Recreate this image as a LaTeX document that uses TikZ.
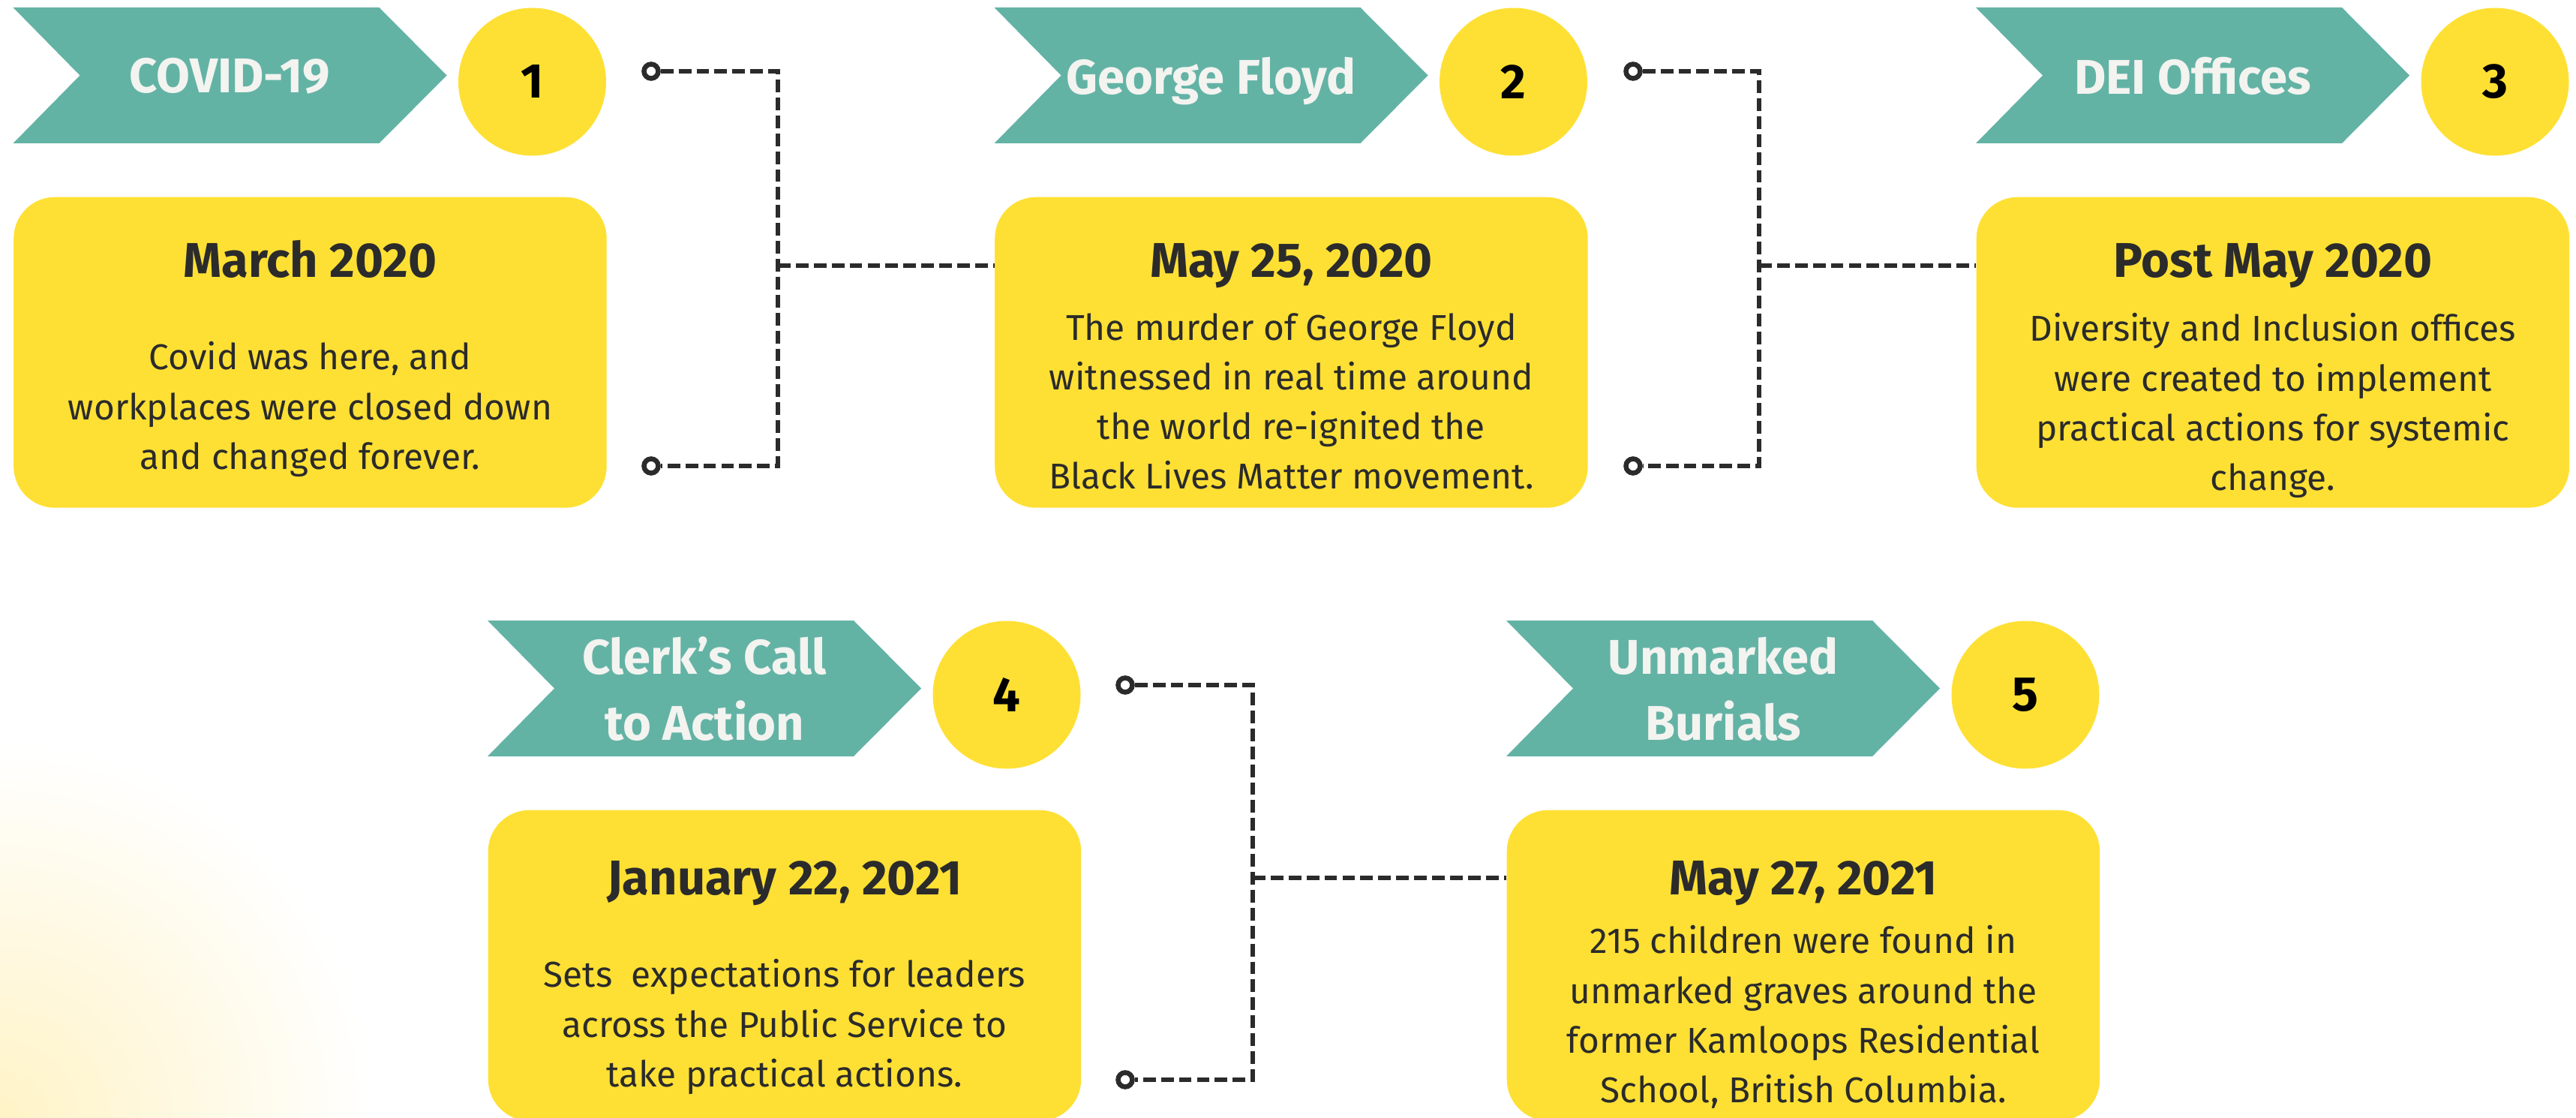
\documentclass[tikz,border=0pt]{standalone}
\usepackage{fontspec}
\setmainfont{Fira Sans}

\begin{document}
\begin{tikzpicture}[
  tag/.style={text=tag_text,font=\bfseries\fontsize{18.5}{25}\selectfont,align=center,text depth=0pt,inner sep=0pt},
  badge/.style={circle,fill=card_fill,minimum size=1.97cm,inner sep=0pt,font=\bfseries\fontsize{18.5}{22}\selectfont},
  card/.style={fill=card_fill,rounded corners=0.55cm,minimum width=7.905cm,minimum height=4.14cm,anchor=north west,inner sep=0pt},
  card_title/.style={text=ink,font=\bfseries\fontsize{18.5}{22}\selectfont,anchor=base,inner sep=0pt},
  card_text/.style={text=ink,font=\fontsize{13.6}{18.8}\selectfont,align=center,anchor=north,inner sep=0pt},
  pin/.style={circle,draw=ink,fill=white,line width=0.065cm,minimum size=0.19cm,inner sep=0pt},
  link/.style={draw=ink,line width=0.065cm,dash pattern=on 4.8pt off 2pt}
]
\definecolor{tag_fill}{HTML}{63B3A5}
\definecolor{tag_text}{HTML}{F3F3F0}
\definecolor{card_fill}{HTML}{FEE034}
\definecolor{ink}{HTML}{2B2B2B}
\definecolor{glow_fill}{HTML}{FFF3C6}

\useasboundingbox (0,0) rectangle (34.34,-14.90);
\begin{scope}
\clip (0,0) rectangle (34.34,-14.90);
\shade[inner color=glow_fill,outer color=white] (0,-14.90) circle (5);
\end{scope}

% banners, numbers and cards
\foreach \i/\x/\y/\label in {1/0.175/-0.10/COVID-19,2/13.255/-0.10/George Floyd,3/26.34/-0.10/DEI Offices,4/6.50/-8.27/{Clerk’s Call\\to Action},5/20.08/-8.27/{Unmarked\\Burials}}{
\fill[tag_fill] (\x,\y) -- ++(4.88,0) -- ++(0.90,-0.905) -- ++(-0.90,-0.905) -- ++(-4.88,0) -- ++(0.89,0.905) -- cycle;
\node[tag] (tag\i) at (\x+2.89,\y-0.905) {\label};
\node[badge] (num\i) at (\x+6.92,\y-0.99) {\i};
\node[card] (box\i) at (\x,\y-2.52) {};
}

\node[card_title] (date1) at ([yshift=-1.08cm]box1.north) {March 2020};
\node[card_text] (note1) at ([yshift=-1.93cm]box1.north) {Covid was here, and\\workplaces were closed down\\and changed forever.};
\node[card_title] (date2) at ([yshift=-1.08cm]box2.north) {May 25, 2020};
\node[card_text] (note2) at ([yshift=-1.55cm]box2.north) {The murder of George Floyd\\witnessed in real time around\\the world re-ignited the\\Black Lives Matter movement.};
\node[card_title] (date3) at ([yshift=-1.08cm]box3.north) {Post May 2020};
\node[card_text] (note3) at ([yshift=-1.55cm]box3.north) {Diversity and Inclusion offices\\were created to implement\\practical actions for systemic\\change.};
\node[card_title] (date4) at ([yshift=-1.13cm]box4.north) {January 22, 2021};
\node[card_text] (note4) at ([yshift=-1.99cm]box4.north) {Sets\ \ expectations for leaders\\across the Public Service to\\take practical actions.};
\node[card_title] (date5) at ([yshift=-1.13cm]box5.north) {May 27, 2021};
\node[card_text] (note5) at ([yshift=-1.54cm]box5.north) {215 children were found in\\unmarked graves around the\\former Kamloops Residential\\School, British Columbia.};

% brackets
\node[pin] (pin1a) at (8.68,-0.95) {};
\node[pin] (pin1b) at (8.68,-6.21) {};
\coordinate (joint1) at (10.37,-3.54);
\draw[link] (pin1a) -| (joint1) |- (pin1b);
\draw[link] (joint1) -- (joint1 -| box2.west);

\node[pin] (pin2a) at (21.77,-0.95) {};
\node[pin] (pin2b) at (21.77,-6.21) {};
\coordinate (joint2) at (23.45,-3.54);
\draw[link] (pin2a) -| (joint2) |- (pin2b);
\draw[link] (joint2) -- (joint2 -| box3.west);

\node[pin] (pin4a) at (15.00,-9.13) {};
\node[pin] (pin4b) at (15.00,-14.39) {};
\coordinate (joint4) at (16.70,-11.70);
\draw[link] (pin4a) -| (joint4) |- (pin4b);
\draw[link] (joint4) -- (joint4 -| box5.west);
\end{tikzpicture}
\end{document}
